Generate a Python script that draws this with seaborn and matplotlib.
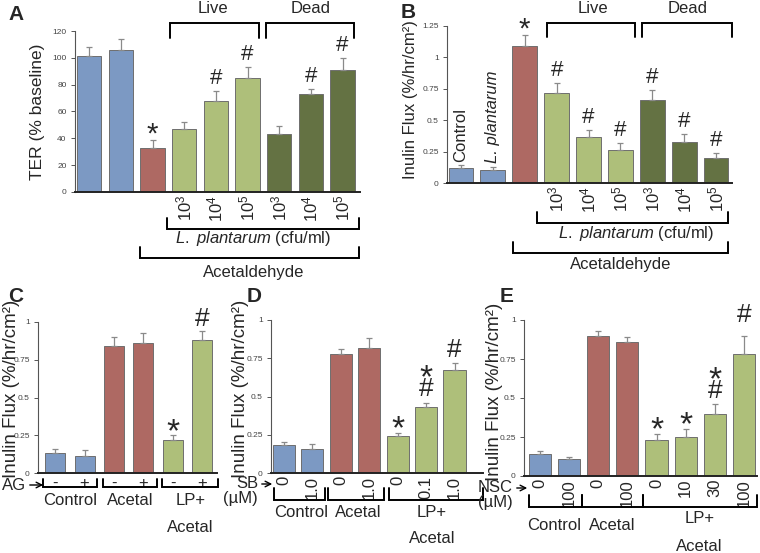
import numpy as np
import pandas as pd
import matplotlib
matplotlib.use("Agg")
import matplotlib.pyplot as plt
import seaborn as sns
from matplotlib.textpath import TextPath
from matplotlib.font_manager import FontProperties

sns.set_style("ticks")
plt.rcParams['font.family'] = ['Liberation Sans', 'DejaVu Sans']
plt.rcParams['mathtext.fontset'] = 'custom'
plt.rcParams['mathtext.rm'] = 'Liberation Sans'
plt.rcParams['mathtext.it'] = 'Liberation Sans:italic'

# ─────────────────────────────────────────
# DATA
# ─────────────────────────────────────────
BLUE, RED, LGREEN, DGREEN = "#7097cf", "#ba5e57", "#b4ca6f", "#677a3b"

# panel A: TER (% baseline)
a_vals = [101, 106, 33, 47, 68, 85, 43, 73, 91]
a_errs = [7, 8, 6, 5, 7, 8, 6, 4, 9]
a_cols = [BLUE, BLUE, RED, LGREEN, LGREEN, LGREEN, DGREEN, DGREEN, DGREEN]
a_ticks = ["", "", "", "$10^3$", "$10^4$", "$10^5$", "$10^3$", "$10^4$", "$10^5$"]
a_marks = ["", "", "*", "", "#", "#", "", "#", "#"]

# panel B: inulin flux
b_vals = [0.12, 0.10, 1.09, 0.72, 0.37, 0.26, 0.66, 0.33, 0.20]
b_errs = [0.02, 0.03, 0.09, 0.08, 0.05, 0.06, 0.08, 0.06, 0.04]
b_cols = a_cols
b_ticks = a_ticks
b_marks = ["", "", "*", "#", "#", "#", "#", "#", "#"]

# panel C: AG
c_vals = [0.13, 0.11, 0.84, 0.86, 0.22, 0.88]
c_errs = [0.03, 0.04, 0.06, 0.07, 0.03, 0.06]
c_cols = [BLUE, BLUE, RED, RED, LGREEN, LGREEN]
c_ticks = ["-", "+", "-", "+", "-", "+"]
c_marks = ["", "", "", "", "*", "#"]

# panel D: SB
d_vals = [0.18, 0.16, 0.78, 0.82, 0.24, 0.43, 0.67]
d_errs = [0.02, 0.03, 0.03, 0.06, 0.02, 0.03, 0.05]
d_cols = [BLUE, BLUE, RED, RED, LGREEN, LGREEN, LGREEN]
d_ticks = ["0", "1.0", "0", "1.0", "0", "0.1", "1.0"]
d_marks = ["", "", "", "", "*", "*#", "#"]

# panel E: NSC
e_vals = [0.14, 0.11, 0.90, 0.86, 0.23, 0.25, 0.40, 0.78]
e_errs = [0.02, 0.01, 0.03, 0.03, 0.04, 0.05, 0.06, 0.12]
e_cols = [BLUE, BLUE, RED, RED, LGREEN, LGREEN, LGREEN, LGREEN]
e_ticks = ["0", "100", "0", "100", "0", "10", "30", "100"]
e_marks = ["", "", "", "", "*", "*", "*#", "#"]

FLUX = "Inulin Flux (%/hr/cm²)"

W, H = 760, 553
fig = plt.figure(figsize=(W / 100, H / 100), dpi=100)


def px_axes(left, right, top, bottom):
    return fig.add_axes([left / W, 1 - bottom / H, (right - left) / W, (bottom - top) / H])


# ink extents (in em) of the significance marks, so they can be stacked by ink
_fp = FontProperties(family="Liberation Sans")
INK = {ch: TextPath((0, 0), ch, size=1, prop=_fp).get_extents() for ch in "*#"}


def add_marks(ax, x, y, marks, hash_h, star_h, gap, step=1.5):
    # marks are written top-to-bottom; stack them upward from the error bar
    cur = gap
    for ch in reversed(marks):
        ext = INK[ch]
        h = hash_h if ch == "#" else star_h
        size = h / ext.height
        ax.annotate(ch, (x, y), xytext=(0, cur - ext.y0 * size), textcoords="offset points",
                    ha="center", va="baseline", fontsize=size)
        cur += h + step


def bars(ax, vals, errs, cols, ticks, marks, width, xlim, ylim, yticks, ylabels,
         ylabel, ylab_size, ylab_pos, tick_rot, hash_h, star_h, gap):
    ids = [f"b{i}" for i in range(len(vals))]
    df = pd.DataFrame({"bar": ids, "val": vals})
    sns.barplot(data=df, x="bar", y="val", hue="bar", palette=cols, legend=False,
                width=width, edgecolor="#6e6e6e", linewidth=0.7, errorbar=None, ax=ax)
    x = np.arange(len(vals))
    ax.errorbar(x, vals, yerr=[np.zeros(len(vals)), errs], fmt="none",
                ecolor="#8a8a8a", elinewidth=0.9, capsize=2.2, capthick=0.9)
    for xi, v, e, m in zip(x, vals, errs, marks):
        if m:
            add_marks(ax, xi, v + e, m, hash_h, star_h, gap)
    ax.set_xlim(*xlim)
    ax.set_ylim(*ylim)
    ax.set_yticks(yticks)
    ax.set_yticklabels(ylabels, fontsize=6, color="#444444")
    ax.set_xticks(x)
    ax.set_xticklabels(ticks, rotation=tick_rot, fontsize=12)
    ax.tick_params(axis="x", length=0, pad=2)
    ax.tick_params(axis="y", length=3, width=0.7, color="#555555", pad=3)
    ax.set_xlabel("")
    ax.set_ylabel(ylabel, fontsize=ylab_size)
    ax.yaxis.set_label_coords(*ylab_pos)
    sns.despine(ax=ax)
    ax.spines["left"].set_color("#555555")
    ax.spines["left"].set_linewidth(0.8)
    ax.spines["bottom"].set_color("#222222")
    ax.spines["bottom"].set_linewidth(1.4)


def bracket(ax, x0, x1, y, yend, lw=1.4):
    tr = ax.get_xaxis_transform()
    ax.plot([x0, x0, x1, x1], [yend, y, y, yend], color="black", lw=lw,
            transform=tr, clip_on=False, solid_joinstyle="miter")


def label(ax, x, y, s, size=12, **kw):
    ax.text(x, y, s, transform=ax.get_xaxis_transform(), ha="center", va="center",
            fontsize=size, clip_on=False, **kw)


# ─────────────────────────────────────────
# PANEL A
# ─────────────────────────────────────────
axA = px_axes(75, 360, 31, 192)
bars(axA, a_vals, a_errs, a_cols, a_ticks, a_marks, 0.77, (-0.45, 8.55), (0, 120),
     range(0, 121, 20), [str(v) for v in range(0, 121, 20)],
     "TER (% baseline)", 12.5, (-0.105, 0.5), 90, 11, 7.5, 5)
bracket(axA, 2.56, 5.35, 1.05, 0.957)
bracket(axA, 5.57, 8.35, 1.05, 0.957)
label(axA, 3.92, 1.137, "Live")
label(axA, 7.0, 1.137, "Dead")
bracket(axA, 2.47, 8.51, -0.23, -0.16)
label(axA, 5.16, -0.29, "$\\it{L.\\ plantarum}$ (cfu/ml)")
bracket(axA, 1.61, 8.51, -0.41, -0.34)
label(axA, 5.2, -0.50, "Acetaldehyde")

# ─────────────────────────────────────────
# PANEL B
# ─────────────────────────────────────────
axB = px_axes(447, 732, 26, 183)
bars(axB, b_vals, b_errs, b_cols, b_ticks, b_marks, 0.78, (-0.44, 8.5), (0, 1.25),
     [0, 0.25, 0.5, 0.75, 1, 1.25], ["0", "0.25", "0.5", "0.75", "1", "1.25"],
     FLUX, 12, (-0.102, 0.53), 90, 11, 7.5, 5)
axB.text(0, 0.17, "Control", rotation=90, ha="center", va="bottom", fontsize=12)
axB.text(1, 0.16, "L. plantarum", rotation=90, ha="center", va="bottom", fontsize=12,
         style="italic")
bracket(axB, 2.7, 5.45, 1.02, 0.93)
bracket(axB, 5.67, 8.5, 1.02, 0.93)
label(axB, 4.14, 1.11, "Live")
label(axB, 7.1, 1.11, "Dead")
bracket(axB, 2.38, 8.37, -0.255, -0.185)
label(axB, 5.5, -0.32, "$\\it{L.\\ plantarum}$ (cfu/ml)")
bracket(axB, 1.63, 8.37, -0.446, -0.376)
label(axB, 5.0, -0.52, "Acetaldehyde")

# ─────────────────────────────────────────
# PANEL C
# ─────────────────────────────────────────
flux_ticks = [0, 0.25, 0.5, 0.75, 1]
flux_labels = ["0", "0.25", "0.5", "0.75", "1"]

axC = px_axes(38, 217, 322, 473)
bars(axC, c_vals, c_errs, c_cols, c_ticks, c_marks, 0.68, (-0.58, 5.5), (0, 1),
     flux_ticks, flux_labels, FLUX, 13.5, (-0.1, 0.56), 0, 13, 8.5, 4)
bracket(axC, -0.41, 1.43, -0.093, -0.04)
bracket(axC, 1.63, 3.47, -0.093, -0.04)
bracket(axC, 3.64, 5.54, -0.093, -0.04)
label(axC, 0.5, -0.18, "Control")
label(axC, 2.55, -0.18, "Acetal")
label(axC, 4.6, -0.18, "LP+")
label(axC, 4.6, -0.36, "Acetal")

# ─────────────────────────────────────────
# PANEL D
# ─────────────────────────────────────────
axD = px_axes(271, 483, 320, 473)
bars(axD, d_vals, d_errs, d_cols, d_ticks, d_marks, 0.78, (-0.45, 7.0), (0, 1),
     flux_ticks, flux_labels, FLUX, 13.5, (-0.105, 0.55), 90, 13, 8.5, 4.5)
bracket(axD, -0.33, 1.45, -0.176, -0.098)
bracket(axD, 1.56, 3.52, -0.176, -0.098)
bracket(axD, 3.7, 7.0, -0.176, -0.098)
label(axD, 0.6, -0.255, "Control")
label(axD, 2.63, -0.255, "Acetal")
label(axD, 5.2, -0.255, "LP+")
label(axD, 5.2, -0.425, "Acetal")

# ─────────────────────────────────────────
# PANEL E
# ─────────────────────────────────────────
axE = px_axes(524, 757, 320, 476)
bars(axE, e_vals, e_errs, e_cols, e_ticks, e_marks[:-1] + [""],
     0.76, (-0.55, 7.45), (0, 1), flux_ticks, flux_labels, FLUX, 13.5,
     (-0.09, 0.54), 90, 13, 8.5, 4.5)
# the last '#' sits well above its error bar in the original
add_marks(axE, 7, e_vals[-1] + e_errs[-1], e_marks[-1], 13, 8.5, 10)
bracket(axE, -0.38, 1.45, -0.2, -0.12)
bracket(axE, 1.45, 3.52, -0.2, -0.12)
bracket(axE, 3.52, 7.45, -0.2, -0.12)
label(axE, 0.48, -0.32, "Control")
label(axE, 2.48, -0.32, "Acetal")
label(axE, 5.48, -0.27, "LP+")
label(axE, 5.48, -0.455, "Acetal")


# ─────────────────────────────────────────
# treatment arrows on the lower panels
# ─────────────────────────────────────────
def arrow_label(text, x_text, x0, x1, y, unit=None):
    fig.text(x_text / W, 1 - y / H, text, ha="right", va="center", fontsize=12)
    fig.add_artist(matplotlib.patches.FancyArrowPatch(
        (x0 / W, 1 - y / H), (x1 / W, 1 - y / H), transform=fig.transFigure,
        arrowstyle="->", mutation_scale=10, lw=1.0, color="black"))
    if unit:
        fig.text(x_text / W, 1 - (y + 15) / H, unit, ha="right", va="center", fontsize=12)


arrow_label("AG", 26, 27, 46, 485)
arrow_label("SB", 258, 259, 275, 484, "(µM)")
arrow_label("NSC", 513, 514, 530, 488, "(µM)")

# panel letters
for s, x, y in [("A", 8, 14), ("B", 401, 13), ("C", 8, 296), ("D", 247, 296), ("E", 500, 296)]:
    fig.text(x / W, 1 - y / H, s, fontsize=15, fontweight="bold", va="center", ha="left")

plt.savefig("out.png", dpi=100)
